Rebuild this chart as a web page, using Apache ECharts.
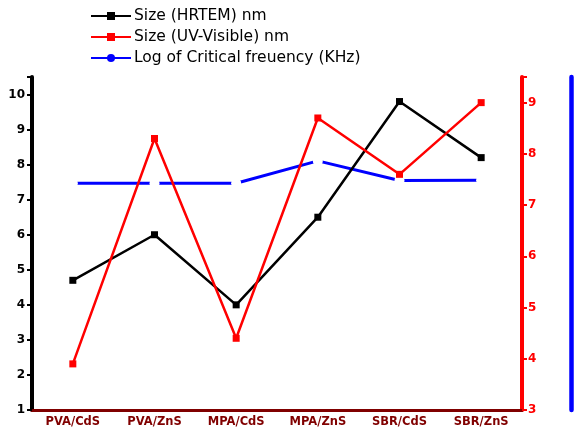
<!DOCTYPE html>
<html>
<head>
<meta charset="utf-8">
<script src="https://cdn.jsdelivr.net/npm/echarts@6/dist/echarts.min.js"></script>
<style>
html,body{margin:0;padding:0;background:#fff;}
#c{width:574px;height:428px;}
</style>
</head>
<body>
<div id="c"></div>
<script>
const categories = ['PVA/CdS', 'PVA/ZnS', 'MPA/CdS', 'MPA/ZnS', 'SBR/CdS', 'SBR/ZnS'];
const sizeHRTEM = [4.7, 6.0, 4.0, 6.5, 9.8, 8.2];
const sizeUV = [3.9, 8.3, 4.4, 8.7, 7.6, 9.0];
const logCritFreq = [6.81, 6.81, 6.81, 7.48, 6.89, 6.9];
const seriesNames = ['Size (HRTEM) nm', 'Size (UV-Visible) nm', 'Log of Critical freuency (KHz)'];

const chart = echarts.init(document.getElementById('c'));
const font = 'DejaVu Sans';
chart.setOption({
  animation: false,
  backgroundColor: '#ffffff',
  legend: {
    orient: 'vertical',
    left: 90,
    top: 8,
    padding: 0,
    itemWidth: 40,
    itemHeight: 10,
    itemGap: 5,
    textStyle: { fontFamily: font, fontSize: 15.5, color: '#000', lineHeight: 16, padding: [0, 0, 0, -2] },
    data: [
      { name: seriesNames[0] },
      { name: seriesNames[1] },
      { name: seriesNames[2], itemStyle: { color: '#0000ff' } }
    ]
  },
  grid: { left: 32, right: 52, top: 77, bottom: 18 },
  xAxis: {
    type: 'category',
    data: categories,
    boundaryGap: true,
    axisLine: { lineStyle: { color: '#800000', width: 3 } },
    axisTick: { alignWithLabel: true, length: 4, lineStyle: { color: '#800000', width: 2 } },
    axisLabel: { color: '#800000', fontFamily: font, fontWeight: 'bold', fontSize: 11.5, margin: 6 },
    splitLine: { show: false }
  },
  yAxis: [
    {
      type: 'value', position: 'left', min: 1, max: 10.5, interval: 1,
      axisLine: { show: true, lineStyle: { color: '#000', width: 4 } },
      axisTick: { show: true, length: 5, lineStyle: { color: '#000', width: 2 } },
      minorTick: { show: true, splitNumber: 2, length: 2, lineStyle: { color: '#000', width: 2 } },
      axisLabel: { color: '#000', fontFamily: font, fontWeight: 'bold', fontSize: 12, margin: 7,
        formatter: v => Number.isInteger(v) ? String(v) : '' },
      splitLine: { show: false }
    },
    {
      type: 'value', position: 'right', min: 3, max: 9.5, interval: 1,
      axisLine: { show: true, lineStyle: { color: '#ff0000', width: 4 } },
      axisTick: { show: true, length: 5, lineStyle: { color: '#ff0000', width: 2 } },
      minorTick: { show: true, splitNumber: 2, length: 2, lineStyle: { color: '#ff0000', width: 2 } },
      axisLabel: { color: '#ff0000', fontFamily: font, fontWeight: 'bold', fontSize: 12, margin: 6,
        formatter: v => Number.isInteger(v) ? String(v) : '' },
      splitLine: { show: false }
    },
    {
      type: 'value', position: 'right', offset: 49, min: 0, max: 10,
      axisLine: { show: true, lineStyle: { color: '#0000ff', width: 4.5 } },
      axisTick: { show: false },
      axisLabel: { show: false },
      splitLine: { show: false }
    }
  ],
  series: [
    {
      name: seriesNames[2], type: 'line', yAxisIndex: 2, data: logCritFreq, z: 1,
      symbol: 'circle', symbolSize: 10,
      itemStyle: { color: '#ffffff', borderWidth: 0 },
      lineStyle: { color: '#0000ff', width: 3 }
    },
    {
      name: seriesNames[0], type: 'line', yAxisIndex: 0, data: sizeHRTEM, z: 3,
      symbol: 'rect', symbolSize: 7,
      itemStyle: { color: '#000000' },
      lineStyle: { color: '#000000', width: 2.5 }
    },
    {
      name: seriesNames[1], type: 'line', yAxisIndex: 1, data: sizeUV, z: 4,
      symbol: 'rect', symbolSize: 7,
      itemStyle: { color: '#ff0000' },
      lineStyle: { color: '#ff0000', width: 2.5 }
    }
  ]
});
</script>
</body>
</html>
